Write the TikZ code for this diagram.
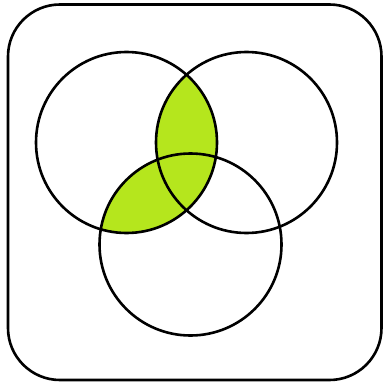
\documentclass[tikz,border=0pt]{standalone}
\definecolor{lime}{RGB}{181,230,29}
\begin{document}
\begin{tikzpicture}[x=1pt,y=-1pt,line width=2.6pt,
  ring/.style={draw=black}]
\useasboundingbox (0,0) rectangle (385,385);
\coordinate (ca) at (126.5,142.5);
\coordinate (cb) at (246.5,142.5);
\coordinate (cc) at (190.5,244.5);
\begin{scope}
  \clip (ca) circle (90.5);
  \fill[lime] (cb) circle (90.5);
  \fill[lime] (cc) circle (91);
\end{scope}
\draw[rounded corners=52pt] (8,4.5) rectangle (381.5,380);
\draw[ring] (ca) circle (90.5);
\draw[ring] (cb) circle (90.5);
\draw[ring] (cc) circle (91);
\end{tikzpicture}
\end{document}
